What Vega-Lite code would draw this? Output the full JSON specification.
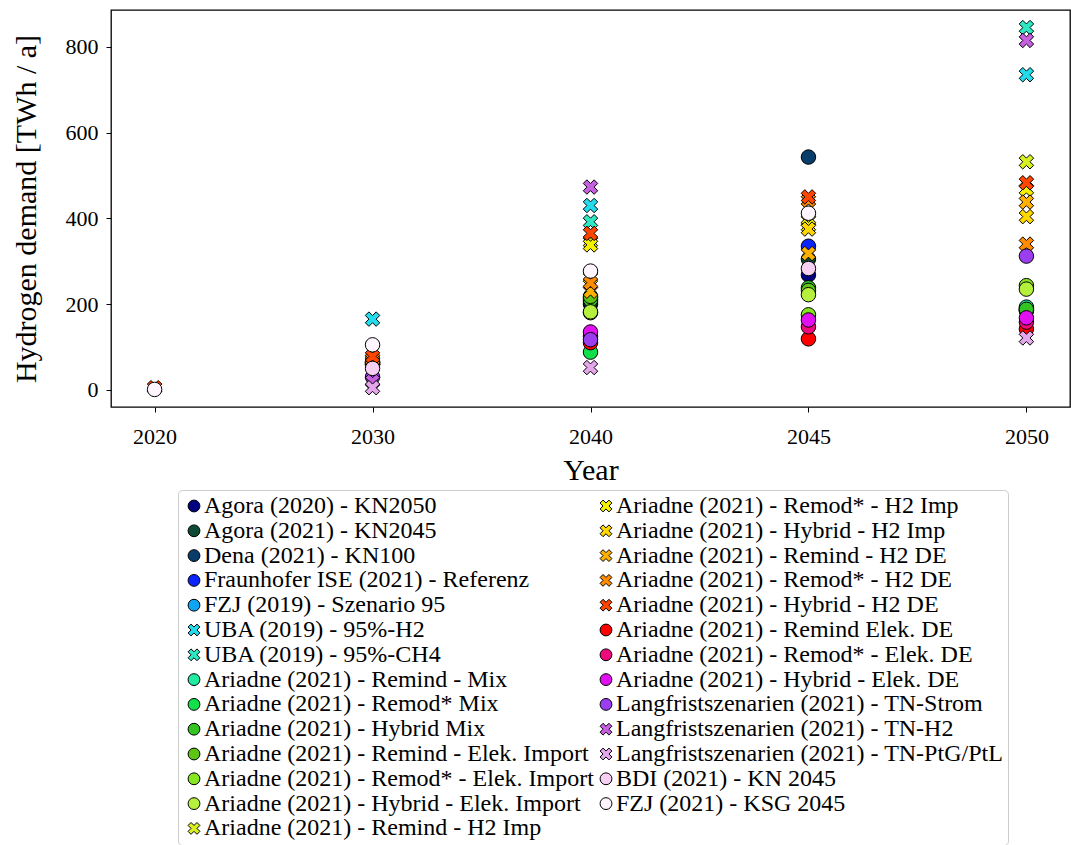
{
  "$schema": "https://vega.github.io/schema/vega-lite/v6.json",
  "autosize": {"type": "none"},
  "padding": {"left": 111, "top": 10, "right": 1, "bottom": 438},
  "width": 959,
  "height": 397,
  "background": "white",
  "config": {
    "view": {"stroke": "black", "strokeWidth": 1.3},
    "font": "Liberation Serif",
    "axis": {
      "labelFont": "Liberation Serif",
      "titleFont": "Liberation Serif",
      "labelFontSize": 22,
      "titleFontSize": 30,
      "titleFontWeight": "normal",
      "labelColor": "black",
      "titleColor": "black",
      "tickColor": "black",
      "tickSize": 5,
      "domain": false,
      "grid": false
    },
    "legend": {
      "labelFont": "Liberation Serif",
      "labelFontSize": 24,
      "labelColor": "black",
      "labelLimit": 700,
      "symbolStrokeWidth": 1,
      "symbolSize": 140,
      "rowPadding": 0.8,
      "columnPadding": -3,
      "padding": 4,
      "labelOffset": -2,
      "strokeColor": "#cccccc",
      "cornerRadius": 4,
      "fillColor": "white"
    }
  },
  "data": {
    "values": [
      {"series": "Agora (2020) - KN2050", "year": "2040", "value": 200},
      {"series": "Agora (2020) - KN2050", "year": "2045", "value": 268},
      {"series": "Agora (2020) - KN2050", "year": "2050", "value": 185},
      {"series": "Agora (2021) - KN2045", "year": "2030", "value": 60},
      {"series": "Agora (2021) - KN2045", "year": "2040", "value": 205},
      {"series": "Agora (2021) - KN2045", "year": "2045", "value": 305},
      {"series": "Dena (2021) - KN100", "year": "2045", "value": 543},
      {"series": "Fraunhofer ISE (2021) - Referenz", "year": "2045", "value": 335},
      {"series": "FZJ (2019) - Szenario 95", "year": "2050", "value": 190},
      {"series": "UBA (2019)  - 95%-H2", "year": "2030", "value": 165},
      {"series": "UBA (2019)  - 95%-H2", "year": "2040", "value": 430},
      {"series": "UBA (2019)  - 95%-H2", "year": "2050", "value": 735},
      {"series": "UBA (2019)  - 95%-CH4", "year": "2040", "value": 392},
      {"series": "UBA (2019)  - 95%-CH4", "year": "2050", "value": 845},
      {"series": "Ariadne (2021) - Remind - Mix", "year": "2030", "value": 62},
      {"series": "Ariadne (2021) - Remind - Mix", "year": "2040", "value": 215},
      {"series": "Ariadne (2021) - Remind - Mix", "year": "2050", "value": 193},
      {"series": "Ariadne (2021) - Remod* Mix", "year": "2030", "value": 58},
      {"series": "Ariadne (2021) - Remod* Mix", "year": "2040", "value": 88},
      {"series": "Ariadne (2021) - Remod* Mix", "year": "2050", "value": 185},
      {"series": "Ariadne (2021) - Hybrid Mix", "year": "2030", "value": 64},
      {"series": "Ariadne (2021) - Hybrid Mix", "year": "2040", "value": 210},
      {"series": "Ariadne (2021) - Hybrid Mix", "year": "2045", "value": 238},
      {"series": "Ariadne (2021) - Hybrid Mix", "year": "2050", "value": 188},
      {"series": "Ariadne (2021) - Remind - Elek. Import", "year": "2030", "value": 66},
      {"series": "Ariadne (2021) - Remind - Elek. Import", "year": "2040", "value": 218},
      {"series": "Ariadne (2021) - Remind - Elek. Import", "year": "2045", "value": 232},
      {"series": "Ariadne (2021) - Remod* - Elek. Import", "year": "2040", "value": 180},
      {"series": "Ariadne (2021) - Remod* - Elek. Import", "year": "2045", "value": 175},
      {"series": "Ariadne (2021) - Remod* - Elek. Import", "year": "2050", "value": 243},
      {"series": "Ariadne (2021) - Hybrid - Elek. Import", "year": "2040", "value": 182},
      {"series": "Ariadne (2021) - Hybrid - Elek. Import", "year": "2045", "value": 222},
      {"series": "Ariadne (2021) - Hybrid - Elek. Import", "year": "2050", "value": 235},
      {"series": "Ariadne (2021) - Remind - H2 Imp", "year": "2030", "value": 64},
      {"series": "Ariadne (2021) - Remind - H2 Imp", "year": "2040", "value": 345},
      {"series": "Ariadne (2021) - Remind - H2 Imp", "year": "2045", "value": 395},
      {"series": "Ariadne (2021) - Remind - H2 Imp", "year": "2050", "value": 532},
      {"series": "Ariadne (2021) - Remod* - H2 Imp", "year": "2040", "value": 338},
      {"series": "Ariadne (2021) - Remod* - H2 Imp", "year": "2045", "value": 382},
      {"series": "Ariadne (2021) - Remod* - H2 Imp", "year": "2050", "value": 468},
      {"series": "Ariadne (2021) - Hybrid - H2 Imp", "year": "2040", "value": 262},
      {"series": "Ariadne (2021) - Hybrid - H2 Imp", "year": "2045", "value": 375},
      {"series": "Ariadne (2021) - Hybrid - H2 Imp", "year": "2050", "value": 404},
      {"series": "Ariadne (2021) - Remind - H2 DE", "year": "2030", "value": 68},
      {"series": "Ariadne (2021) - Remind - H2 DE", "year": "2040", "value": 230},
      {"series": "Ariadne (2021) - Remind - H2 DE", "year": "2045", "value": 318},
      {"series": "Ariadne (2021) - Remind - H2 DE", "year": "2050", "value": 438},
      {"series": "Ariadne (2021) - Remod* - H2 DE", "year": "2030", "value": 72},
      {"series": "Ariadne (2021) - Remod* - H2 DE", "year": "2040", "value": 250},
      {"series": "Ariadne (2021) - Remod* - H2 DE", "year": "2045", "value": 442},
      {"series": "Ariadne (2021) - Remod* - H2 DE", "year": "2050", "value": 340},
      {"series": "Ariadne (2021) - Hybrid - H2 DE", "year": "2020", "value": 5},
      {"series": "Ariadne (2021) - Hybrid - H2 DE", "year": "2030", "value": 78},
      {"series": "Ariadne (2021) - Hybrid - H2 DE", "year": "2040", "value": 365},
      {"series": "Ariadne (2021) - Hybrid - H2 DE", "year": "2045", "value": 450},
      {"series": "Ariadne (2021) - Hybrid - H2 DE", "year": "2050", "value": 483},
      {"series": "Ariadne (2021) - Remind  Elek. DE", "year": "2040", "value": 110},
      {"series": "Ariadne (2021) - Remind  Elek. DE", "year": "2045", "value": 119},
      {"series": "Ariadne (2021) - Remind  Elek. DE", "year": "2050", "value": 142},
      {"series": "Ariadne (2021) - Remod* - Elek. DE", "year": "2040", "value": 125},
      {"series": "Ariadne (2021) - Remod* - Elek. DE", "year": "2045", "value": 147},
      {"series": "Ariadne (2021) - Remod* - Elek. DE", "year": "2050", "value": 158},
      {"series": "Ariadne (2021) - Hybrid - Elek. DE", "year": "2040", "value": 135},
      {"series": "Ariadne (2021) - Hybrid - Elek. DE", "year": "2045", "value": 163},
      {"series": "Ariadne (2021) - Hybrid - Elek. DE", "year": "2050", "value": 168},
      {"series": "Langfristszenarien (2021) - TN-Strom", "year": "2030", "value": 30},
      {"series": "Langfristszenarien (2021) - TN-Strom", "year": "2040", "value": 117},
      {"series": "Langfristszenarien (2021) - TN-Strom", "year": "2050", "value": 312},
      {"series": "Langfristszenarien (2021) - TN-H2", "year": "2030", "value": 20},
      {"series": "Langfristszenarien (2021) - TN-H2", "year": "2040", "value": 473},
      {"series": "Langfristszenarien (2021) - TN-H2", "year": "2050", "value": 815},
      {"series": "Langfristszenarien (2021) - TN-PtG/PtL", "year": "2030", "value": 5},
      {"series": "Langfristszenarien (2021) - TN-PtG/PtL", "year": "2040", "value": 52},
      {"series": "Langfristszenarien (2021) - TN-PtG/PtL", "year": "2050", "value": 121},
      {"series": "BDI (2021) - KN 2045", "year": "2030", "value": 50},
      {"series": "BDI (2021) - KN 2045", "year": "2045", "value": 283},
      {"series": "FZJ (2021) - KSG 2045", "year": "2020", "value": 1},
      {"series": "FZJ (2021) - KSG 2045", "year": "2030", "value": 105},
      {"series": "FZJ (2021) - KSG 2045", "year": "2040", "value": 277},
      {"series": "FZJ (2021) - KSG 2045", "year": "2045", "value": 412}
    ]
  },
  "mark": {"type": "point", "filled": true, "opacity": 1, "strokeWidth": 1, "size": 210},
  "encoding": {
    "x": {
      "field": "year",
      "type": "ordinal",
      "sort": ["2020", "2030", "2040", "2045", "2050"],
      "scale": {"type": "point", "padding": 0.2},
      "axis": {"title": "Year", "labelAngle": 0, "labelPadding": 14, "titlePadding": 8}
    },
    "y": {
      "field": "value",
      "type": "quantitative",
      "scale": {"domain": [-40, 886], "nice": false, "zero": false},
      "axis": {"title": "Hydrogen demand [TWh / a]", "values": [0, 200, 400, 600, 800], "labelPadding": 8, "titlePadding": 24}
    },
    "stroke": {
      "field": "series",
      "type": "nominal",
      "scale": {
        "domain": [
          "Agora (2020) - KN2050", "Agora (2021) - KN2045", "Dena (2021) - KN100",
          "Fraunhofer ISE (2021) - Referenz", "FZJ (2019) - Szenario 95",
          "UBA (2019)  - 95%-H2", "UBA (2019)  - 95%-CH4",
          "Ariadne (2021) - Remind - Mix", "Ariadne (2021) - Remod* Mix", "Ariadne (2021) - Hybrid Mix",
          "Ariadne (2021) - Remind - Elek. Import", "Ariadne (2021) - Remod* - Elek. Import", "Ariadne (2021) - Hybrid - Elek. Import",
          "Ariadne (2021) - Remind - H2 Imp", "Ariadne (2021) - Remod* - H2 Imp", "Ariadne (2021) - Hybrid - H2 Imp",
          "Ariadne (2021) - Remind - H2 DE", "Ariadne (2021) - Remod* - H2 DE", "Ariadne (2021) - Hybrid - H2 DE",
          "Ariadne (2021) - Remind  Elek. DE", "Ariadne (2021) - Remod* - Elek. DE", "Ariadne (2021) - Hybrid - Elek. DE",
          "Langfristszenarien (2021) - TN-Strom", "Langfristszenarien (2021) - TN-H2", "Langfristszenarien (2021) - TN-PtG/PtL",
          "BDI (2021) - KN 2045", "FZJ (2021) - KSG 2045"
        ],
        "range": [
          "black", "black", "black", "black", "black", "black", "black", "black", "black",
          "black", "black", "black", "black", "black", "black", "black", "black", "black",
          "black", "black", "black", "black", "black", "black", "black", "black", "black"
        ]
      },
      "legend": {
        "title": null,
        "orient": "none",
        "legendX": 67,
        "legendY": 480,
        "columns": 2
      }
    },
    "fill": {
      "field": "series",
      "type": "nominal",
      "scale": {
        "domain": [
          "Agora (2020) - KN2050", "Agora (2021) - KN2045", "Dena (2021) - KN100",
          "Fraunhofer ISE (2021) - Referenz", "FZJ (2019) - Szenario 95",
          "UBA (2019)  - 95%-H2", "UBA (2019)  - 95%-CH4",
          "Ariadne (2021) - Remind - Mix", "Ariadne (2021) - Remod* Mix", "Ariadne (2021) - Hybrid Mix",
          "Ariadne (2021) - Remind - Elek. Import", "Ariadne (2021) - Remod* - Elek. Import", "Ariadne (2021) - Hybrid - Elek. Import",
          "Ariadne (2021) - Remind - H2 Imp", "Ariadne (2021) - Remod* - H2 Imp", "Ariadne (2021) - Hybrid - H2 Imp",
          "Ariadne (2021) - Remind - H2 DE", "Ariadne (2021) - Remod* - H2 DE", "Ariadne (2021) - Hybrid - H2 DE",
          "Ariadne (2021) - Remind  Elek. DE", "Ariadne (2021) - Remod* - Elek. DE", "Ariadne (2021) - Hybrid - Elek. DE",
          "Langfristszenarien (2021) - TN-Strom", "Langfristszenarien (2021) - TN-H2", "Langfristszenarien (2021) - TN-PtG/PtL",
          "BDI (2021) - KN 2045", "FZJ (2021) - KSG 2045"
        ],
        "range": [
          "#000080", "#0d4a36", "#083d6b",
          "#0b24fb", "#0fa5f5",
          "#22dcec", "#2ee8c4",
          "#20eba0", "#12e04a", "#33c422",
          "#5fc514", "#86e620", "#b5f03c",
          "#d8f020", "#f5f000", "#ffd700",
          "#ffb000", "#ff8c00", "#ff4500",
          "#ff0000", "#ee0a7c", "#e010f0",
          "#9b3ef0", "#c65fe0", "#e6a6ec",
          "#f5d0f2", "#fff5ff"
        ]
      },
      "legend": {
        "title": null,
        "orient": "none",
        "legendX": 67,
        "legendY": 480,
        "columns": 2
      }
    },
    "shape": {
      "field": "series",
      "type": "nominal",
      "scale": {
        "domain": [
          "Agora (2020) - KN2050", "Agora (2021) - KN2045", "Dena (2021) - KN100",
          "Fraunhofer ISE (2021) - Referenz", "FZJ (2019) - Szenario 95",
          "UBA (2019)  - 95%-H2", "UBA (2019)  - 95%-CH4",
          "Ariadne (2021) - Remind - Mix", "Ariadne (2021) - Remod* Mix", "Ariadne (2021) - Hybrid Mix",
          "Ariadne (2021) - Remind - Elek. Import", "Ariadne (2021) - Remod* - Elek. Import", "Ariadne (2021) - Hybrid - Elek. Import",
          "Ariadne (2021) - Remind - H2 Imp", "Ariadne (2021) - Remod* - H2 Imp", "Ariadne (2021) - Hybrid - H2 Imp",
          "Ariadne (2021) - Remind - H2 DE", "Ariadne (2021) - Remod* - H2 DE", "Ariadne (2021) - Hybrid - H2 DE",
          "Ariadne (2021) - Remind  Elek. DE", "Ariadne (2021) - Remod* - Elek. DE", "Ariadne (2021) - Hybrid - Elek. DE",
          "Langfristszenarien (2021) - TN-Strom", "Langfristszenarien (2021) - TN-H2", "Langfristszenarien (2021) - TN-PtG/PtL",
          "BDI (2021) - KN 2045", "FZJ (2021) - KSG 2045"
        ],
        "range": [
          "circle", "circle", "circle", "circle", "circle",
          "M -0.5 -1 L 0 -0.5 L 0.5 -1 L 1 -0.5 L 0.5 0 L 1 0.5 L 0.5 1 L 0 0.5 L -0.5 1 L -1 0.5 L -0.5 0 L -1 -0.5 Z",
          "M -0.5 -1 L 0 -0.5 L 0.5 -1 L 1 -0.5 L 0.5 0 L 1 0.5 L 0.5 1 L 0 0.5 L -0.5 1 L -1 0.5 L -0.5 0 L -1 -0.5 Z",
          "circle", "circle", "circle", "circle", "circle", "circle",
          "M -0.5 -1 L 0 -0.5 L 0.5 -1 L 1 -0.5 L 0.5 0 L 1 0.5 L 0.5 1 L 0 0.5 L -0.5 1 L -1 0.5 L -0.5 0 L -1 -0.5 Z",
          "M -0.5 -1 L 0 -0.5 L 0.5 -1 L 1 -0.5 L 0.5 0 L 1 0.5 L 0.5 1 L 0 0.5 L -0.5 1 L -1 0.5 L -0.5 0 L -1 -0.5 Z",
          "M -0.5 -1 L 0 -0.5 L 0.5 -1 L 1 -0.5 L 0.5 0 L 1 0.5 L 0.5 1 L 0 0.5 L -0.5 1 L -1 0.5 L -0.5 0 L -1 -0.5 Z",
          "M -0.5 -1 L 0 -0.5 L 0.5 -1 L 1 -0.5 L 0.5 0 L 1 0.5 L 0.5 1 L 0 0.5 L -0.5 1 L -1 0.5 L -0.5 0 L -1 -0.5 Z",
          "M -0.5 -1 L 0 -0.5 L 0.5 -1 L 1 -0.5 L 0.5 0 L 1 0.5 L 0.5 1 L 0 0.5 L -0.5 1 L -1 0.5 L -0.5 0 L -1 -0.5 Z",
          "M -0.5 -1 L 0 -0.5 L 0.5 -1 L 1 -0.5 L 0.5 0 L 1 0.5 L 0.5 1 L 0 0.5 L -0.5 1 L -1 0.5 L -0.5 0 L -1 -0.5 Z",
          "circle", "circle", "circle", "circle",
          "M -0.5 -1 L 0 -0.5 L 0.5 -1 L 1 -0.5 L 0.5 0 L 1 0.5 L 0.5 1 L 0 0.5 L -0.5 1 L -1 0.5 L -0.5 0 L -1 -0.5 Z",
          "M -0.5 -1 L 0 -0.5 L 0.5 -1 L 1 -0.5 L 0.5 0 L 1 0.5 L 0.5 1 L 0 0.5 L -0.5 1 L -1 0.5 L -0.5 0 L -1 -0.5 Z",
          "circle", "circle"
        ]
      },
      "legend": {
        "title": null,
        "orient": "none",
        "legendX": 67,
        "legendY": 480,
        "columns": 2
      }
    }
  }
}
